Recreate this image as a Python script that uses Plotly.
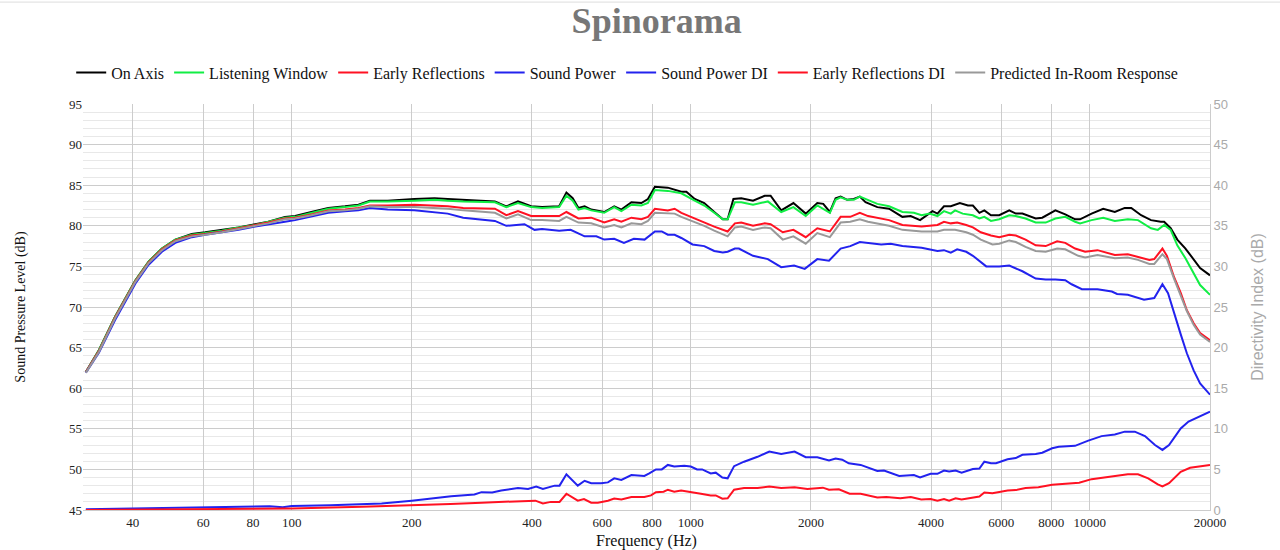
import plotly.graph_objects as go

# ---------------- data ----------------
on_axis_f = [30.5, 32.9, 36.1, 40.6, 43.8, 47.3, 51.1, 56.2, 60.7, 66.8, 73.6, 81, 87.4, 96.2, 102, 112, 123.5, 136, 147, 157, 174, 203, 228, 246, 269, 323, 345, 369, 398, 424, 468, 488, 506, 523, 542, 563, 607, 643, 670, 710, 752, 781, 813, 876, 947, 975, 1023, 1081, 1145, 1203, 1237, 1279, 1338, 1432, 1532, 1585, 1685, 1808, 1941, 2075, 2148, 2231, 2306, 2374, 2466, 2562, 2652, 2741, 2934, 3140, 3391, 3557, 3755, 4033, 4150, 4310, 4483, 4723, 4948, 5092, 5287, 5440, 5652, 5928, 6281, 6523, 6777, 7315, 7598, 8197, 8676, 9183, 9450, 10100, 10800, 11550, 12230, 12700, 13440, 14230, 15060, 15350, 15940, 16560, 17360, 18200, 18890, 20000]
on_axis_db = [62.0, 64.7, 68.8, 73.3, 75.6, 77.2, 78.3, 79.0, 79.2, 79.5, 79.8, 80.2, 80.5, 81.1, 81.2, 81.7, 82.2, 82.4, 82.6, 83.1, 83.1, 83.3, 83.4, 83.3, 83.2, 83.0, 82.4, 83.0, 82.4, 82.3, 82.4, 84.1, 83.4, 82.2, 82.4, 82.0, 81.7, 82.4, 82.0, 82.9, 82.8, 83.3, 84.8, 84.7, 84.2, 84.2, 83.3, 82.8, 81.7, 80.8, 80.8, 83.3, 83.4, 83.1, 83.7, 83.7, 81.9, 82.8, 81.5, 82.8, 82.7, 81.7, 83.4, 83.6, 83.2, 83.3, 83.6, 82.9, 82.3, 82.1, 81.1, 81.2, 80.7, 81.8, 81.5, 82.4, 82.4, 82.8, 82.5, 82.5, 81.6, 81.9, 81.3, 81.3, 81.9, 81.5, 81.5, 80.9, 81.0, 81.9, 81.4, 80.8, 80.8, 81.5, 82.1, 81.7, 82.2, 82.2, 81.3, 80.7, 80.5, 80.5, 79.7, 78.3, 77.2, 75.8, 74.8, 73.9]

lw_f = [30.5, 32.9, 36.1, 40.6, 43.8, 47.3, 51.1, 56.2, 60.7, 66.8, 73.6, 81, 87.4, 96.2, 102, 112, 123.5, 136, 147, 157, 174, 203, 228, 246, 269, 323, 345, 369, 398, 424, 468, 488, 506, 523, 542, 563, 607, 643, 670, 710, 752, 781, 813, 876, 947, 1023, 1081, 1145, 1203, 1237, 1290, 1338, 1432, 1560, 1685, 1808, 1941, 2075, 2231, 2306, 2374, 2466, 2562, 2652, 2780, 2934, 3140, 3391, 3623, 3788, 3969, 4150, 4310, 4483, 4595, 4800, 5092, 5287, 5440, 5652, 5928, 6281, 6523, 6900, 7315, 7750, 8197, 8676, 9183, 9450, 10100, 10800, 11550, 12450, 13200, 14230, 14800, 15350, 15940, 16560, 17360, 18200, 18890, 20000]
lw_db = [62.0, 64.7, 68.8, 73.3, 75.6, 77.2, 78.3, 78.9, 79.1, 79.4, 79.8, 80.1, 80.5, 81.0, 81.1, 81.6, 82.1, 82.3, 82.5, 83.0, 83.0, 83.1, 83.2, 83.1, 83.0, 82.9, 82.3, 82.8, 82.3, 82.2, 82.3, 83.7, 83.1, 82.0, 82.2, 81.9, 81.6, 82.3, 81.8, 82.6, 82.5, 82.8, 84.4, 84.3, 84.0, 83.1, 82.5, 81.6, 80.8, 80.8, 82.9, 82.9, 82.6, 83.0, 81.7, 82.3, 81.2, 82.5, 81.6, 83.2, 83.5, 83.2, 83.2, 83.6, 83.2, 82.7, 82.4, 81.7, 81.6, 81.3, 81.5, 81.2, 81.8, 81.5, 81.9, 81.5, 81.3, 80.9, 81.1, 80.6, 80.8, 81.3, 81.2, 80.9, 80.4, 80.4, 80.9, 81.1, 80.5, 80.3, 80.7, 81.0, 80.6, 80.8, 80.7, 79.7, 79.5, 80.1, 79.5, 77.6, 76.0, 74.2, 72.7, 71.5]

er_f = [30.5, 32.9, 36.1, 40.6, 43.8, 47.3, 51.1, 56.2, 60.7, 66.8, 73.6, 81, 87.4, 96.2, 102, 112, 123.5, 136, 147, 157, 174, 203, 228, 246, 269, 323, 345, 369, 398, 424, 468, 488, 523, 563, 607, 643, 670, 710, 752, 781, 813, 876, 911, 947, 1023, 1081, 1145, 1237, 1290, 1338, 1432, 1532, 1585, 1700, 1808, 1941, 2075, 2231, 2374, 2510, 2652, 2780, 3140, 3391, 3788, 4150, 4310, 4483, 4650, 4900, 5092, 5330, 5652, 5928, 6281, 6523, 6900, 7315, 7750, 8280, 8676, 9183, 9730, 10450, 11550, 12450, 13200, 14100, 14500, 15200, 15600, 16250, 16900, 17500, 18200, 18890, 20000]
er_db = [62.0, 64.6, 68.7, 73.2, 75.5, 77.1, 78.2, 78.8, 79.0, 79.3, 79.7, 80.1, 80.4, 80.9, 81.0, 81.4, 81.9, 82.0, 82.2, 82.5, 82.5, 82.6, 82.5, 82.4, 82.2, 82.1, 81.3, 81.8, 81.2, 81.2, 81.2, 81.7, 80.9, 81.0, 80.4, 80.8, 80.5, 81.0, 80.8, 81.1, 82.1, 81.9, 82.1, 81.6, 80.9, 80.5, 79.9, 79.3, 80.3, 80.4, 80.0, 80.3, 80.2, 79.2, 79.5, 78.6, 79.7, 79.3, 81.1, 81.1, 81.6, 81.2, 80.7, 80.1, 79.9, 80.1, 80.5, 80.3, 80.4, 80.1, 79.8, 79.2, 78.8, 78.6, 78.9, 78.8, 78.3, 77.6, 77.5, 78.1, 77.9, 77.2, 76.8, 77.0, 76.4, 76.5, 76.2, 75.8, 75.9, 77.2, 76.3, 73.7, 71.7, 69.6, 68.0, 66.8, 65.9]

sp_f = [30.5, 32.9, 36.1, 40.6, 43.8, 47.3, 51.1, 56.2, 60.7, 66.8, 73.6, 81, 87.4, 96.2, 102, 112, 123.5, 136, 147, 157, 174, 203, 228, 246, 269, 323, 345, 383, 406, 424, 468, 500, 542, 580, 607, 643, 680, 720, 766, 813, 846, 876, 911, 947, 1010, 1081, 1145, 1203, 1237, 1290, 1320, 1432, 1560, 1685, 1815, 1930, 2075, 2220, 2374, 2510, 2652, 2830, 3000, 3170, 3391, 3788, 4150, 4310, 4483, 4650, 4900, 5092, 5500, 5928, 6281, 6777, 7315, 7750, 8197, 8676, 9000, 9550, 10450, 11350, 11700, 12450, 13670, 14500, 15200, 15700, 16250, 16900, 17500, 18200, 18890, 20000]
sp_db = [61.9, 64.4, 68.4, 72.9, 75.2, 76.8, 77.9, 78.6, 78.9, 79.2, 79.5, 79.9, 80.2, 80.5, 80.7, 81.1, 81.6, 81.8, 81.9, 82.2, 82.0, 81.9, 81.7, 81.5, 81.0, 80.6, 80.0, 80.2, 79.5, 79.6, 79.4, 79.5, 78.7, 78.7, 78.3, 78.4, 77.9, 78.4, 78.3, 79.3, 79.3, 78.9, 78.9, 78.5, 77.7, 77.5, 76.9, 76.7, 76.8, 77.2, 77.2, 76.3, 75.9, 74.9, 75.1, 74.7, 75.9, 75.7, 77.2, 77.5, 78.0, 77.8, 77.7, 77.8, 77.5, 77.3, 76.9, 77.0, 76.7, 77.1, 76.8, 76.3, 75.0, 75.0, 75.1, 74.4, 73.5, 73.4, 73.4, 73.3, 72.8, 72.2, 72.2, 71.9, 71.6, 71.5, 70.9, 71.1, 72.8, 71.7, 69.2, 66.6, 64.3, 62.2, 60.6, 59.2]

spdi_f = [30.5, 40, 50, 60, 70, 80, 88, 95, 100, 125, 150, 168, 200, 224, 251, 287, 299, 318, 335, 369, 391, 410, 426, 456, 469, 488, 521, 542, 563, 596, 620, 643, 670, 710, 765, 787, 818, 846, 876, 909, 963, 1000, 1037, 1068, 1122, 1155, 1200, 1237, 1284, 1360, 1470, 1573, 1685, 1820, 1941, 2075, 2220, 2306, 2396, 2488, 2665, 2934, 3049, 3328, 3494, 3623, 3755, 3990, 4150, 4310, 4440, 4610, 4770, 5092, 5287, 5440, 5652, 5820, 6220, 6523, 6777, 7315, 7598, 8044, 8356, 9180, 9910, 10700, 11550, 12230, 12960, 13740, 14560, 15200, 15790, 16890, 17670, 18560, 20000]
spdi_db = [0.1, 0.2, 0.25, 0.3, 0.35, 0.4, 0.45, 0.35, 0.5, 0.6, 0.7, 0.8, 1.15, 1.4, 1.7, 1.9, 2.2, 2.15, 2.4, 2.7, 2.6, 2.9, 2.6, 3.0, 3.0, 4.4, 3.0, 3.6, 3.3, 3.3, 3.4, 3.9, 3.7, 4.3, 4.2, 4.5, 5.0, 5.0, 5.55, 5.35, 5.45, 5.35, 5.0, 5.0, 4.5, 4.6, 4.0, 3.9, 5.4, 5.95, 6.55, 7.2, 6.9, 7.2, 6.5, 6.5, 6.1, 6.35, 6.2, 5.75, 5.55, 4.8, 4.85, 4.2, 4.3, 4.3, 4.0, 4.45, 4.45, 4.85, 4.75, 4.85, 4.6, 5.05, 5.1, 5.95, 5.75, 5.75, 6.25, 6.4, 6.8, 6.9, 7.05, 7.6, 7.8, 7.9, 8.55, 9.1, 9.3, 9.65, 9.65, 9.1, 8.0, 7.4, 8.0, 10.05, 10.9, 11.4, 12.1]

erdi_f = [30.5, 50, 70, 100, 150, 200, 250, 299, 350, 408, 426, 446, 469, 488, 521, 540, 563, 585, 620, 643, 670, 710, 765, 795, 818, 855, 876, 909, 946, 1000, 1060, 1122, 1155, 1200, 1237, 1284, 1360, 1470, 1573, 1685, 1820, 1960, 2075, 2143, 2220, 2350, 2500, 2665, 2934, 3090, 3350, 3560, 3780, 3990, 4150, 4310, 4440, 4610, 4770, 5092, 5287, 5440, 5700, 6220, 6523, 6900, 7430, 8044, 8700, 9400, 10100, 10900, 11800, 12450, 13200, 14000, 14800, 15200, 15790, 16890, 17830, 18900, 20000]
erdi_db = [0.0, 0.05, 0.1, 0.2, 0.4, 0.55, 0.75, 0.9, 1.0, 1.15, 0.8, 1.0, 1.0, 2.0, 1.15, 1.35, 0.9, 0.9, 1.15, 1.4, 1.3, 1.6, 1.6, 1.8, 2.2, 2.25, 2.5, 2.25, 2.4, 2.25, 2.0, 1.8, 1.8, 1.4, 1.45, 2.5, 2.7, 2.7, 2.9, 2.7, 2.8, 2.6, 2.7, 2.75, 2.5, 2.55, 2.0, 2.0, 1.55, 1.6, 1.45, 1.6, 1.3, 1.35, 1.15, 1.35, 1.15, 1.45, 1.3, 1.55, 1.65, 2.15, 2.05, 2.4, 2.45, 2.7, 2.8, 3.1, 3.2, 3.35, 3.8, 4.0, 4.25, 4.4, 4.4, 3.9, 3.15, 2.9, 3.3, 4.7, 5.2, 5.4, 5.55]

pir_f = [30.5, 32.9, 36.1, 40.6, 43.8, 47.3, 51.1, 56.2, 60.7, 66.8, 73.6, 81, 87.4, 96.2, 102, 112, 123.5, 136, 147, 157, 174, 203, 228, 246, 269, 323, 345, 369, 398, 424, 468, 488, 523, 563, 607, 643, 670, 710, 752, 781, 813, 876, 911, 947, 1023, 1081, 1145, 1237, 1290, 1338, 1432, 1532, 1585, 1700, 1808, 1941, 2075, 2231, 2374, 2510, 2652, 2780, 3140, 3391, 3788, 4150, 4310, 4595, 4900, 5092, 5330, 5700, 5928, 6281, 6523, 6900, 7315, 7750, 8280, 8676, 9350, 9730, 10450, 11550, 12450, 13200, 14100, 14500, 15200, 15600, 16250, 16900, 17500, 18200, 18890, 20000]
pir_db = [61.9, 64.5, 68.6, 73.1, 75.4, 77.0, 78.1, 78.7, 78.9, 79.2, 79.6, 80.0, 80.3, 80.8, 80.9, 81.3, 81.8, 81.9, 82.1, 82.4, 82.3, 82.3, 82.2, 82.1, 81.9, 81.6, 80.9, 81.4, 80.7, 80.7, 80.6, 81.1, 80.4, 80.3, 79.8, 80.1, 79.8, 80.3, 80.2, 80.6, 81.6, 81.5, 81.5, 81.1, 80.5, 80.0, 79.4, 78.7, 79.8, 79.9, 79.5, 79.8, 79.7, 78.3, 78.7, 77.8, 79.1, 78.6, 80.4, 80.5, 80.8, 80.5, 80.0, 79.5, 79.3, 79.3, 79.5, 79.5, 79.2, 78.9, 78.3, 77.7, 77.8, 78.2, 78.0, 77.4, 76.9, 76.8, 77.2, 77.1, 76.3, 76.1, 76.4, 76.0, 76.1, 75.8, 75.3, 75.3, 76.5, 75.9, 73.5, 71.5, 69.5, 67.8, 66.6, 65.7]

x_tickvals = [40, 60, 80, 100, 200, 400, 600, 800, 1000, 2000, 4000, 6000, 8000, 10000, 20000]
x_ticktext = ["40", "60", "80", "100", "200", "400", "600", "800", "1000", "2000", "4000", "6000", "8000", "10000", "20000"]

# ---------------- figure ----------------
BLACK = "#000000"
GREEN = "#11ee44"
RED = "#ff1122"
BLUE = "#2222ee"
GRAY = "#999999"

series = [
    ("On Axis", on_axis_f, on_axis_db, BLACK, "y"),
    ("Listening Window", lw_f, lw_db, GREEN, "y"),
    ("Early Reflections", er_f, er_db, RED, "y"),
    ("Sound Power", sp_f, sp_db, BLUE, "y"),
    ("Sound Power DI", spdi_f, spdi_db, BLUE, "y2"),
    ("Early Reflections DI", erdi_f, erdi_db, RED, "y2"),
    ("Predicted In-Room Response", pir_f, pir_db, GRAY, "y"),
]

fig = go.Figure()
for name, fx, fy, col, ax in series:
    fig.add_trace(go.Scatter(x=fx, y=fy, name=name, mode="lines",
                             line=dict(color=col, width=2), yaxis=ax))

serif = "Liberation Serif, Times New Roman, serif"
sans = "Liberation Sans, Arial, sans-serif"

fig.update_layout(
    width=1280, height=550,
    margin=dict(l=83, r=70, t=104, b=40, autoexpand=False),
    paper_bgcolor="white", plot_bgcolor="white",
    font=dict(family=serif, color="#222", size=13),
    title=dict(text="<b>Spinorama</b>", x=0.513, xanchor="center", y=0.985, yanchor="top",
               font=dict(family=serif, size=36, color="#777777")),
    legend=dict(orientation="h", xref="container", yref="container", x=0.49, xanchor="center",
                y=0.868, yanchor="middle",
                font=dict(family=serif, size=16, color="#111"), itemwidth=30,
                bgcolor="rgba(0,0,0,0)"),
    showlegend=True,
    xaxis=dict(type="log", range=[1.4771, 4.30103], tickvals=x_tickvals, ticktext=x_ticktext,
               automargin=False,
               showgrid=True, gridcolor="#cccccc", gridwidth=1,
               showline=True, linecolor="#cccccc", zeroline=False,
               ticks="", tickfont=dict(family=serif, size=13, color="#222"),
               title=dict(text="Frequency (Hz)", font=dict(family=serif, size=16, color="#111"), standoff=6)),
    yaxis=dict(range=[45, 95], dtick=5, tick0=45, showgrid=True, gridcolor="#cccccc",
               automargin=False,
               minor=dict(dtick=1, showgrid=True, gridcolor="#e8e8e8"),
               zeroline=False, showline=False, ticks="",
               tickfont=dict(family=serif, size=13, color="#222"),
               title=dict(text="Sound Pressure Level (dB)", font=dict(family=serif, size=14, color="#111"), standoff=40)),
    yaxis2=dict(range=[0, 50], dtick=5, tick0=0, overlaying="y", side="right",
                automargin=False,
                showgrid=False, zeroline=False, showline=True, linecolor="#cccccc", ticks="",
                tickfont=dict(family=sans, size=13, color="#aaaaaa"),
                title=dict(text="Directivity Index (dB)", font=dict(family=sans, size=16, color="#aaaaaa"), standoff=24)),
    shapes=[dict(type="line", xref="paper", yref="paper", x0=-0.08, x1=1.07, y0=1.251, y1=1.251,
                 line=dict(color="#dddddd", width=1))],
)

fig.write_html("out.html", config={"displayModeBar": False},
               post_script="document.body.style.margin='0';document.body.style.overflow='hidden';")
